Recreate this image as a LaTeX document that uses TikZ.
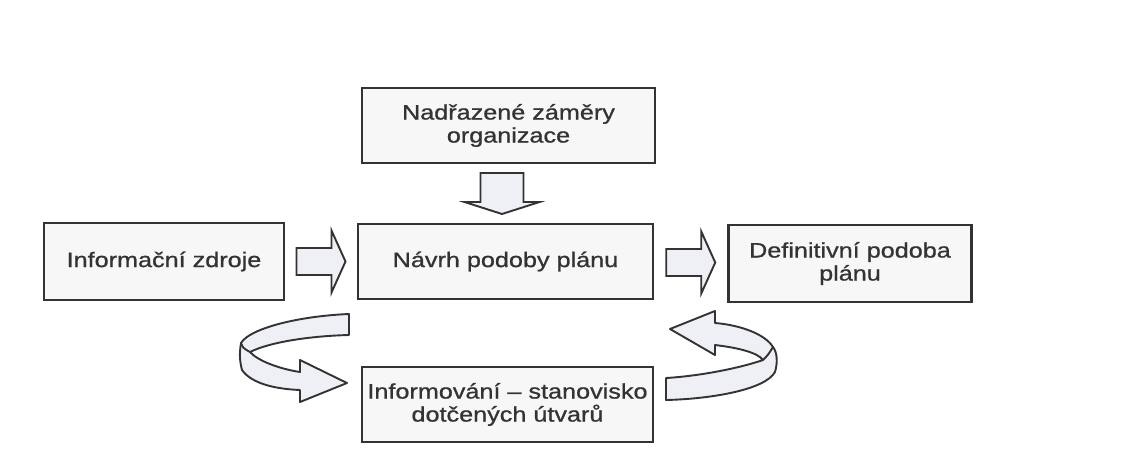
\documentclass[tikz,border=0pt]{standalone}
\usepackage{fontspec}
\setmainfont{Liberation Sans}[FakeStretch=1.2,FakeBold=0.9]
\usetikzlibrary{calc}
\definecolor{ink}{HTML}{333333}
\definecolor{boxfill}{HTML}{F7F7F8}
\definecolor{arrfill}{HTML}{EEF0F6}
\begin{document}
\begin{tikzpicture}[x=1pt,y=-1pt,
  box/.style={draw=ink,line width=2.6pt,fill=boxfill,align=center,inner sep=0pt,
    text=ink,font=\fontsize{21}{23}\selectfont},
  blockarr/.style={draw=ink,line width=1.9pt,fill=arrfill,line join=miter},
  curvarr/.style={draw=ink,line width=1.9pt,fill=arrfill,line join=round},
  rblock/.pic={\draw[blockarr] (-24.5,-13.5) -- (10.5,-13.5) -- (10.5,-31) -- (24.5,0)
      -- (10.5,31) -- (10.5,13.5) -- (-24.5,13.5) -- cycle;},
  dblock/.pic={\draw[blockarr] (-21.5,-20.5) -- (21.5,-20.5) -- (21.5,8.5) -- (37.5,8.5)
      -- (0,20.5) -- (-37.5,8.5) -- (-21.5,8.5) -- cycle;}]
\fill[white] (0,0) rectangle (1135,459);
\useasboundingbox (0,0) rectangle (1135,459);

\node[box,minimum width=293pt,minimum height=75pt] (top) at (508.5,125.5) {Nadřazené záměry\\organizace};
\node[box,minimum width=295pt,minimum height=75pt] (mid) at (505.5,261.5) {Návrh podoby plánu};
\node[box,minimum width=240pt,minimum height=77pt] (left) at (164,261.5) {Informační zdroje};
\node[box,minimum width=243pt,minimum height=77pt] (right) at (850,263.5) {Definitivní podoba\\plánu};
\node[box,minimum width=291pt,minimum height=75pt] (bot) at (507.5,404.5) {Informování – stanovisko\\dotčených útvarů};

\coordinate (a1) at ($(left.east)!0.5!(mid.west)$);
\coordinate (a2) at ($(mid.east)!0.5!(right.west)$);
\coordinate (a3) at ($($(top.south)!0.5!(mid.north)$)+(-5,0)$);
\pic at (a1) {rblock};
\pic at (a2) {rblock};
\pic at (a3) {dblock};

% left loop arrow (from mid back to bottom)
\draw[curvarr] (349,314) .. controls (300,316) and (250,328) .. (241,343)
  .. controls (239,355) and (240,362) .. (242,370)
  .. controls (252,384) and (276,389) .. (300,390)
  -- (300,402) -- (347,383) -- (300,360) -- (300,372)
  .. controls (280,369) and (258,361) .. (250,352)
  .. controls (270,342) and (310,336) .. (349,335) -- cycle;
\draw[curvarr] (241,343) .. controls (243,348) .. (250,352);

% right loop arrow (from bottom back to mid)
\draw[curvarr] (666,400) .. controls (710,399) and (765,390) .. (775,372)
  .. controls (778,362) and (777,352) .. (773,347)
  .. controls (765,334) and (740,325) .. (715,323)
  -- (715,311) -- (670,329) -- (715,355) -- (715,345)
  .. controls (740,348) and (758,353) .. (763,360)
  .. controls (740,368) and (700,376) .. (666,378) -- cycle;
\draw[curvarr] (763,360) .. controls (768,355) .. (773,347);
\end{tikzpicture}
\end{document}
